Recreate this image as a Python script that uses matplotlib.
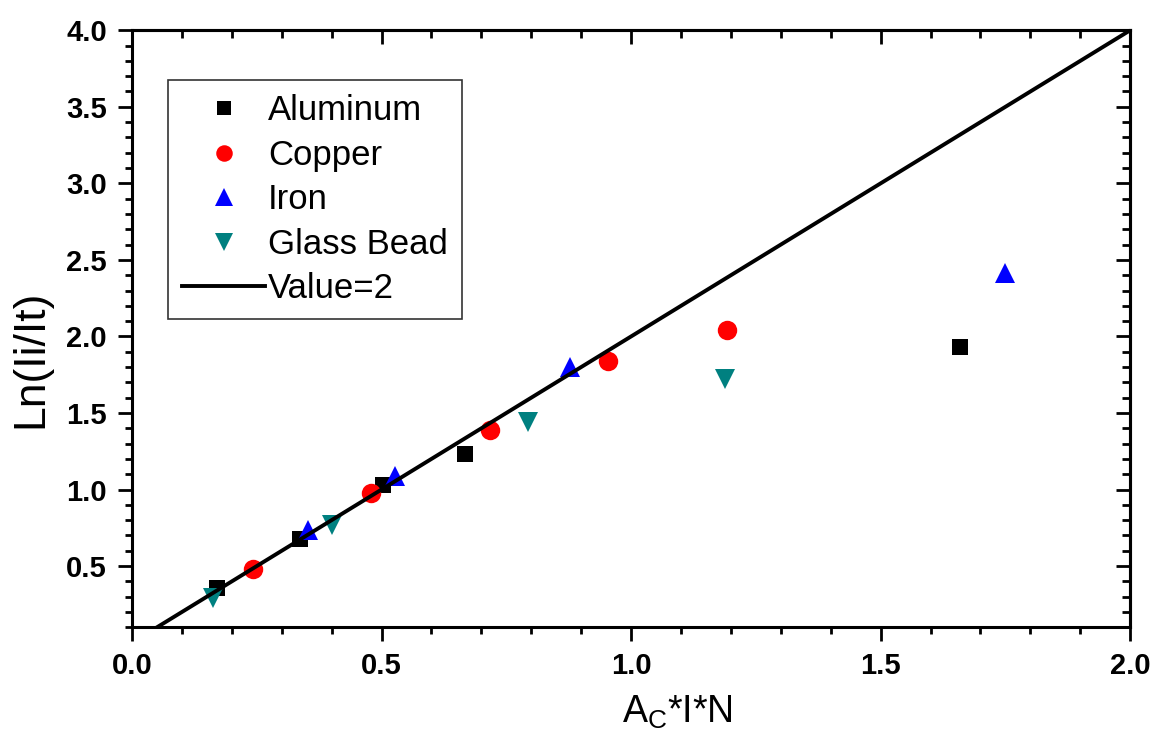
import numpy as np
import matplotlib
matplotlib.use("Agg")
import matplotlib.pyplot as plt
from matplotlib.ticker import MultipleLocator

plt.rcParams['font.family'] = ['Liberation Sans', 'DejaVu Sans']
plt.rcParams['xtick.labelsize'] = 21
plt.rcParams['ytick.labelsize'] = 21

# data
al_x = [0.171, 0.337, 0.502, 0.667, 1.659]
al_y = [0.359, 0.680, 1.029, 1.235, 1.929]
cu_x = [0.243, 0.479, 0.717, 0.953, 1.192]
cu_y = [0.481, 0.976, 1.388, 1.837, 2.040]
fe_x = [0.353, 0.527, 0.878, 1.749]
fe_y = [0.734, 1.088, 1.801, 2.412]
gb_x = [0.163, 0.400, 0.794, 1.188]
gb_y = [0.294, 0.765, 1.441, 1.719]
slope = 2
line_x = [0.0, 2.0]

fig = plt.figure(figsize=(11.58, 7.38), dpi=100)
ax = fig.add_axes([0.114, 0.150, 0.862, 0.809])

ax.plot(al_x, al_y, 's', color='black', ms=12, mew=0, label='Aluminum', zorder=3)
ax.plot(cu_x, cu_y, 'o', color='red', ms=14, mew=0, label='Copper', zorder=3)
ax.plot(fe_x, fe_y, '^', color='blue', ms=15, mew=0, label='Iron', zorder=3)
ax.plot(gb_x, gb_y, 'v', color='#008080', ms=15, mew=0, label='Glass Bead', zorder=3)
lx = np.array(line_x)
ax.plot(lx, slope * lx, '-', color='black', lw=2.8, label='Value=2', zorder=4)

ax.set_xlim(0, 2.0)
ax.set_ylim(0.1, 4.0)
ax.xaxis.set_major_locator(MultipleLocator(0.5))
ax.xaxis.set_minor_locator(MultipleLocator(0.1))
ax.set_yticks(np.arange(0.5, 4.01, 0.5))
ax.yaxis.set_minor_locator(MultipleLocator(0.1))

for s in ax.spines.values():
    s.set_linewidth(2.2)

ax.tick_params(which='both', direction='out', width=2)
ax.tick_params(which='major', length=10)
ax.tick_params(which='minor', length=5)
ax.tick_params(axis='y', pad=8)
ax.tick_params(axis='x', pad=8)

# mirrored inward ticks on top and right
secx = ax.secondary_xaxis('top')
secx.xaxis.set_major_locator(MultipleLocator(0.5))
secx.xaxis.set_minor_locator(MultipleLocator(0.1))
secx.tick_params(which='both', direction='in', width=2, labeltop=False)
secx.tick_params(which='major', length=10)
secx.tick_params(which='minor', length=5.5)
secy = ax.secondary_yaxis('right')
secy.set_yticks(np.arange(0.5, 4.01, 0.5))
secy.yaxis.set_minor_locator(MultipleLocator(0.1))
secy.tick_params(which='both', direction='in', width=2, labelright=False)
secy.tick_params(which='major', length=10)
secy.tick_params(which='minor', length=5.5)
for sp in list(secx.spines.values()) + list(secy.spines.values()):
    sp.set_linewidth(2.2)

for lab in ax.get_xticklabels() + ax.get_yticklabels():
    lab.set_fontweight('bold')
    lab.set_fontsize(21)

# axis titles placed where the reference has them
fig.text(677 / 1158, 1 - 723 / 738, r'A$_\mathregular{C}$*I*N', fontsize=27,
         ha='center', va='baseline')
fig.text(31 / 1158, 1 - 359 / 738, 'Ln(Ii/It)', fontsize=32, rotation=90,
         ha='center', va='center')

leg = ax.legend(loc='upper left', bbox_to_anchor=(0.036, 0.916), fontsize=25,
                frameon=True, fancybox=False, edgecolor='black',
                handlelength=2.4, handletextpad=0.08, labelspacing=0.33,
                borderpad=0.4, borderaxespad=0, markerscale=0.85)
leg.get_frame().set_linewidth(1.2)

fig.savefig('out.png', dpi=100)
